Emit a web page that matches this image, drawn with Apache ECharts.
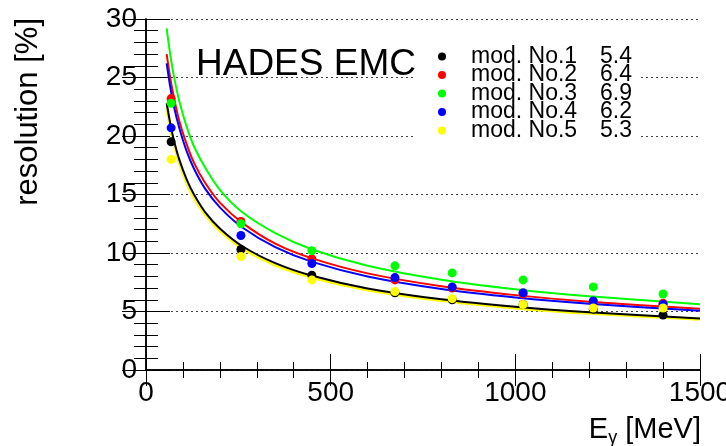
<!DOCTYPE html>
<html>
<head>
<meta charset="UTF-8">
<title>HADES EMC resolution</title>
<script src="https://cdn.jsdelivr.net/npm/echarts@6/dist/echarts.min.js"></script>
<style>
  html, body { margin: 0; padding: 0; background: #fff; }
  #chart { width: 726px; height: 446px; }
</style>
</head>
<body>
<div id="chart"></div>
<script>
// measured points, E in MeV
const energies = [68, 257, 449, 674, 829, 1021, 1211, 1400];
const mod1 = [19.5, 10.3, 8.1, 6.6, 6.0, 5.6, 5.2, 4.7];
const mod2 = [23.2, 12.7, 9.5, 7.7, 7.0, 6.5, 5.8, 5.7];
const mod3 = [22.8, 12.5, 10.2, 8.9, 8.3, 7.7, 7.1, 6.5];
const mod4 = [20.7, 11.5, 9.1, 7.9, 7.1, 6.6, 5.9, 5.6];
const mod5 = [18.0, 9.7, 7.7, 6.7, 6.1, 5.6, 5.3, 5.3];

// fit curves
const fitE = [56, 65, 75, 90, 110, 130, 160, 200, 260, 350, 450, 600, 800, 1000, 1200, 1500];
const fit1 = [22.8, 21.2, 19.7, 18.0, 16.3, 15.0, 13.5, 12.1, 10.6, 9.13, 8.05, 6.97, 6.04, 5.40, 4.93, 4.41];
const fit2 = [27.0, 25.1, 23.4, 21.3, 19.3, 17.7, 16.0, 14.3, 12.6, 10.8, 9.54, 8.26, 7.16, 6.40, 5.84, 5.23];
const fit3 = [29.2, 27.1, 25.2, 23.0, 20.8, 19.1, 17.3, 15.4, 13.5, 11.7, 10.3, 8.91, 7.71, 6.90, 6.30, 5.63];
const fit4 = [26.2, 24.3, 22.6, 20.7, 18.7, 17.2, 15.5, 13.9, 12.2, 10.5, 9.24, 8.00, 6.93, 6.20, 5.66, 5.06];
const fit5 = [22.4, 20.8, 19.4, 17.7, 16.0, 14.7, 13.3, 11.9, 10.4, 8.96, 7.90, 6.84, 5.93, 5.30, 4.84, 4.33];

const names = ['mod. No.1', 'mod. No.2', 'mod. No.3', 'mod. No.4', 'mod. No.5'];
const legendValues = ['5.4', '6.4', '6.9', '6.2', '5.3'];
const colors = ['#000000', '#ff0000', '#00ff00', '#0000ff', '#ffff00'];

const FONT = '"Liberation Sans", Arial, Helvetica, sans-serif';

const points = [mod1, mod2, mod3, mod4, mod5];
const fits = [fit1, fit2, fit3, fit4, fit5];

function pairs(xs, ys) {
  return xs.map((x, i) => [x, ys[i]]);
}

const series = [];
// curves first, yellow under black like in the plot
[4, 1, 2, 3, 0].forEach(i => {
  series.push({
    name: 'fit' + (i + 1),
    type: 'line',
    data: pairs(fitE, fits[i]),
    smooth: 0.3,
    showSymbol: false,
    silent: true,
    lineStyle: { color: colors[i], width: i == 4 ? 3 : 2 },
    z: 2
  });
});
points.forEach((p, i) => {
  series.push({
    name: names[i],
    type: 'scatter',
    data: pairs(energies, p),
    symbol: 'circle',
    symbolSize: 9,
    itemStyle: { color: colors[i], opacity: 1 },
    z: 3
  });
});

const frameLine = { show: true, lineStyle: { color: '#000', width: 1.5 } };
const plain = v => String(v);

const option = {
  animation: false,
  backgroundColor: '#fff',
  grid: { left: 146, right: 26, top: 19, bottom: 76, outerBoundsMode: 'none', containLabel: false },
  xAxis: [{
    type: 'value', position: 'bottom', min: 0, max: 1500, interval: 500,
    axisLine: frameLine,
    axisTick: { inside: true, length: 16, lineStyle: { color: '#000' } },
    minorTick: { show: true, splitNumber: 5, length: 8, lineStyle: { color: '#000' } },
    axisLabel: { fontSize: 28, color: '#000', fontFamily: FONT, margin: 9, formatter: plain, showMaxLabel: true, hideOverlap: false },
    splitLine: { show: false }
  }, {
    type: 'value', position: 'top', min: 0, max: 1500, interval: 500,
    axisLine: frameLine,
    axisTick: { inside: true, length: 16, lineStyle: { color: '#000' } },
    minorTick: { show: true, splitNumber: 5, length: 8, lineStyle: { color: '#000' } },
    axisLabel: { show: false },
    splitLine: { show: false }
  }],
  yAxis: [{
    type: 'value', position: 'left', min: 0, max: 30, interval: 5,
    axisLine: frameLine,
    axisTick: { inside: true, length: 24, lineStyle: { color: '#000' } },
    minorTick: { show: true, splitNumber: 5, length: 12, lineStyle: { color: '#000' } },
    axisLabel: { fontSize: 28, color: '#000', fontFamily: FONT, margin: 9, formatter: plain },
    splitLine: { show: true, lineStyle: { color: '#444', type: [2, 3], width: 1 } }
  }, {
    type: 'value', position: 'right', min: 0, max: 30, interval: 5,
    axisLine: frameLine,
    axisTick: { inside: true, length: 24, lineStyle: { color: '#000' } },
    minorTick: { show: true, splitNumber: 5, length: 12, lineStyle: { color: '#000' } },
    axisLabel: { show: false },
    splitLine: { show: false }
  }],
  legend: {
    data: names,
    orient: 'vertical',
    left: 415,
    top: 40,
    padding: [5, 9, 6, 23],
    backgroundColor: '#fff',
    itemWidth: 8,
    itemHeight: 8,
    itemGap: -4.5,
    icon: 'circle',
    selectedMode: false,
    formatter: name => '{n|' + name + '}{v|' + legendValues[names.indexOf(name)] + '}',
    textStyle: {
      fontFamily: FONT,
      fontSize: 23,
      lineHeight: 19,
      color: '#000',
      rich: {
        n: { fontFamily: FONT, fontSize: 23, lineHeight: 19, width: 129, padding: [0, 0, 0, 20] },
        v: { fontFamily: FONT, fontSize: 23, lineHeight: 19 }
      }
    }
  },
  graphic: [{
    type: 'text',
    style: {
      x: 196, y: 65, text: 'HADES EMC',
      font: '37px ' + FONT, fill: '#000',
      textVerticalAlign: 'middle'
    }
  }, {
    type: 'text',
    rotation: Math.PI / 2,
    x: 28, y: 18,
    style: {
      text: 'resolution [%]',
      font: '31px ' + FONT, fill: '#000',
      textAlign: 'right', textVerticalAlign: 'middle'
    }
  }, {
    type: 'text',
    style: {
      x: 701, y: 430,
      text: '{e|E}{g|γ}{e| [MeV]}',
      textAlign: 'right', textVerticalAlign: 'middle',
      rich: {
        e: { fontFamily: FONT, fontSize: 29, lineHeight: 34, fill: '#000' },
        g: { fontFamily: FONT, fontSize: 18, lineHeight: 14, verticalAlign: 'bottom', fill: '#000' }
      }
    }
  }],
  series: series
};

const chart = echarts.init(document.getElementById('chart'), null, { renderer: 'canvas' });
chart.setOption(option);
</script>
</body>
</html>
